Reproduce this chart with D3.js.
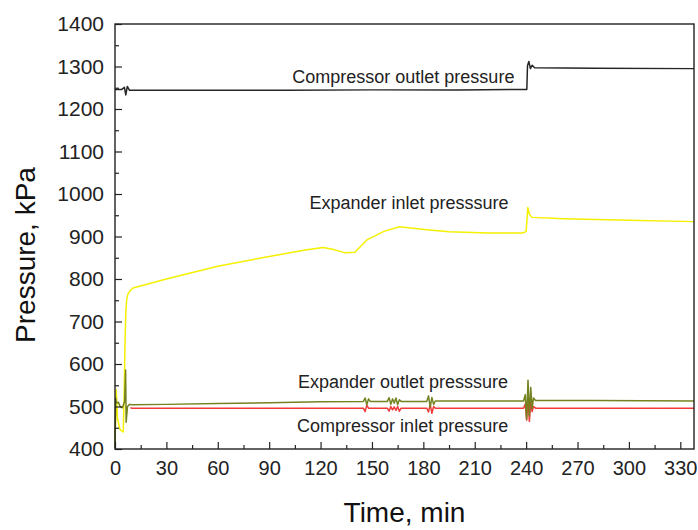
<!DOCTYPE html>
<html lang="en">
<head>
<meta charset="UTF-8">
<title>Pressure vs time</title>
<script src="https://d3js.org/d3.v7.min.js"></script>
<style>
    body { margin: 0; background: #fff; }
    svg { display: block; font-family: "Liberation Sans", Arial, sans-serif; }
</style>
</head>
<body>
<script>
// axis ticks
const xMajor = [0, 30, 60, 90, 120, 150, 180, 210, 240, 270, 300, 330];
const xMinor = [15, 45, 75, 105, 135, 165, 195, 225, 255, 285, 315];
const yMajor = [400, 500, 600, 700, 800, 900, 1000, 1100, 1200, 1300, 1400];
const yMinor = [450, 550, 650, 750, 850, 950, 1050, 1150, 1250, 1350];

// Compressor outlet pressure (kPa) vs time (min)
const compOutT = [0, 4, 5.5, 6.3, 7.2, 8.5, 30, 60, 100, 150, 200, 238, 240.4, 240.8, 241.6, 242.5, 243.5, 245, 280, 338];
const compOutP = [1246, 1246, 1251, 1233, 1253, 1244, 1244, 1244, 1244, 1245, 1245, 1246, 1246, 1302, 1312, 1295, 1303, 1297, 1296, 1295];

// Expander inlet pressure
const expInT = [0, 0.7, 1.5, 3, 4.8, 5.3, 5.8, 6.3, 6.8, 7.6, 9, 10.5, 30, 60, 90, 111, 121.5, 127, 134, 140, 147, 157, 166, 182, 195, 218, 238, 240, 241, 242, 243.5, 262, 300, 338];
const expInP = [405, 540, 470, 445, 440, 520, 640, 720, 752, 765, 773, 779, 800, 830, 853, 868, 874, 870, 862, 863, 892, 912, 923, 916, 911, 908, 908, 912, 968, 952, 945, 942, 938, 935];

// Expander outlet pressure
const expOutT = [0, 0.4, 0.9, 2, 3, 4.3, 5.6, 6.2, 6.5, 7.3, 8.5, 10, 30, 60, 90, 120, 145, 146, 147, 148, 149, 159, 160, 161, 162, 163, 164, 165, 166, 167, 182, 183, 184, 185, 186, 187, 238.5, 239.5, 240.3, 241.1, 241.9, 242.7, 243.5, 244.3, 245.5, 280, 338];
const expOutP = [402, 520, 508, 510, 500, 497, 512, 586, 463, 500, 505, 504, 505, 507, 509, 511, 512, 520, 504, 518, 512, 512, 521, 505, 518, 508, 520, 504, 516, 512, 512, 525, 499, 521, 505, 513, 513, 528, 470, 562, 478, 545, 495, 520, 514, 514, 513];

// Compressor inlet pressure
const compInT = [9, 10, 60, 145, 146, 147, 148, 159, 160, 161, 162, 163, 164, 165, 166, 167, 182, 183, 184, 185, 186, 187, 238.5, 239.5, 240.3, 241.1, 241.9, 242.7, 243.5, 244.3, 245.5, 338];
const compInP = [497, 496, 496, 496, 488, 503, 496, 496, 489, 500, 492, 499, 491, 500, 489, 496, 496, 487, 505, 484, 500, 496, 496, 506, 468, 522, 465, 512, 488, 500, 496, 496];

const width = 698, height = 530;
const margin = { top: 24, right: 4, bottom: 81, left: 115 };

const svg = d3.select("body").append("svg")
    .attr("width", width)
    .attr("height", height);

const x = d3.scaleLinear().domain([0, 338]).range([margin.left, width - margin.right]);
const y = d3.scaleLinear().domain([400, 1400]).range([height - margin.bottom, margin.top]);

// series
const series = [
    { t: compOutT, p: compOutP, color: "#262626" },
    { t: expInT, p: expInP, color: "#f4f000" },
    { t: compInT, p: compInP, color: "#f23a3a" },
    { t: expOutT, p: expOutP, color: "#74821f" }
];

const line = d3.line()
    .x(d => x(d[0]))
    .y(d => y(d[1]));

series.forEach(s => {
    svg.append("path")
        .datum(d3.zip(s.t, s.p))
        .attr("d", line)
        .attr("fill", "none")
        .attr("stroke", s.color)
        .attr("stroke-width", 1.5)
        .attr("stroke-linejoin", "round");
});

// axes, ticks pointing inside
svg.append("g")
    .attr("class", "yaxis")
    .attr("transform", `translate(${margin.left},0)`)
    .call(d3.axisLeft(y).tickValues(yMajor).tickSize(-7).tickPadding(11).tickFormat(d3.format("d")));
svg.append("g")
    .attr("transform", `translate(${margin.left},0)`)
    .call(d3.axisLeft(y).tickValues(yMinor).tickSize(-4).tickFormat(""));

svg.append("g")
    .attr("class", "xaxis")
    .attr("transform", `translate(0,${height - margin.bottom})`)
    .call(d3.axisBottom(x).tickValues(xMajor).tickSize(-7).tickPadding(12).tickFormat(d3.format("d")));
svg.append("g")
    .attr("transform", `translate(0,${height - margin.bottom})`)
    .call(d3.axisBottom(x).tickValues(xMinor).tickSize(-4).tickFormat(""));

svg.selectAll(".domain").remove();
svg.selectAll(".tick line").attr("stroke", "#222").attr("stroke-width", 1.2);
svg.selectAll(".tick text")
    .attr("font-family", "Liberation Sans, Arial, sans-serif")
    .attr("fill", "#222");
svg.selectAll(".yaxis .tick text").attr("font-size", 21);
svg.selectAll(".xaxis .tick text").attr("font-size", 20);

// frame
svg.append("rect")
    .attr("x", x(0))
    .attr("y", y(1400))
    .attr("width", x(338) - x(0))
    .attr("height", y(400) - y(1400))
    .attr("fill", "none")
    .attr("stroke", "#222")
    .attr("stroke-width", 1.4);

// axis titles
svg.append("text")
    .attr("x", (x(0) + x(338)) / 2)
    .attr("y", 522)
    .attr("text-anchor", "middle")
    .attr("font-size", 28)
    .attr("fill", "#111")
    .text("Time, min");

svg.append("text")
    .attr("transform", "translate(35,255) rotate(-90)")
    .attr("text-anchor", "middle")
    .attr("font-size", 28)
    .attr("fill", "#111")
    .text("Pressure, kPa");

// curve labels
const labels = [
    { text: "Compressor outlet pressure", t: 103.5, p: 1262 },
    { text: "Expander inlet presssure", t: 113.5, p: 964 },
    { text: "Expander outlet presssure", t: 106.8, p: 543 },
    { text: "Compressor inlet pressure", t: 106.3, p: 440 }
];
svg.selectAll(".lbl")
    .data(labels)
    .enter().append("text")
    .attr("class", "lbl")
    .attr("x", d => x(d.t))
    .attr("y", d => y(d.p))
    .attr("font-size", 18)
    .attr("fill", "#222")
    .text(d => d.text);
</script>
</body>
</html>
